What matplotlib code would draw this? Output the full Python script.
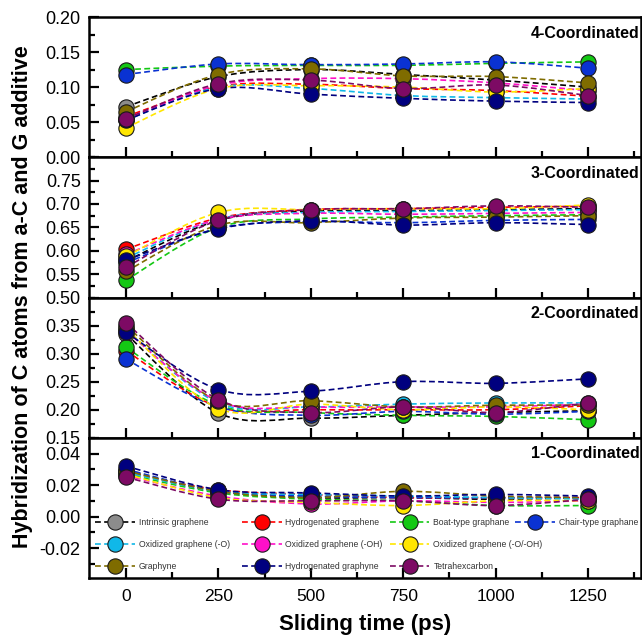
import numpy as np
import matplotlib
matplotlib.use("Agg")
import matplotlib.pyplot as plt
from matplotlib.path import Path
from matplotlib.patches import PathPatch
from matplotlib.lines import Line2D
from matplotlib.ticker import MultipleLocator, FormatStrFormatter

plt.rcParams['font.family'] = ['Liberation Sans', 'DejaVu Sans']
plt.rcParams['axes.unicode_minus'] = False

# data
times = [0, 250, 500, 750, 1000, 1250]
names = ['Intrinsic graphene', 'Hydrogenated graphene', 'Boat-type graphane',
         'Chair-type graphane', 'Oxidized graphene (-O)', 'Oxidized graphene (-OH)',
         'Oxidized graphene (-O/-OH)', 'Graphyne', 'Hydrogenated graphyne',
         'Tetrahexcarbon']

# one row per series, same order as names
coord4 = [[0.072, 0.115, 0.125, 0.118, 0.110, 0.100],
          [0.058, 0.101, 0.104, 0.098, 0.095, 0.087],
          [0.125, 0.130, 0.131, 0.131, 0.134, 0.136],
          [0.118, 0.133, 0.132, 0.133, 0.136, 0.127],
          [0.053, 0.100, 0.098, 0.088, 0.085, 0.083],
          [0.055, 0.103, 0.112, 0.112, 0.106, 0.095],
          [0.042, 0.098, 0.102, 0.100, 0.093, 0.098],
          [0.065, 0.118, 0.126, 0.116, 0.115, 0.106],
          [0.053, 0.098, 0.090, 0.084, 0.080, 0.078],
          [0.055, 0.105, 0.110, 0.098, 0.103, 0.088]]
coord3 = [[0.578, 0.665, 0.685, 0.686, 0.688, 0.690],
          [0.603, 0.670, 0.688, 0.690, 0.693, 0.695],
          [0.537, 0.650, 0.668, 0.672, 0.675, 0.677],
          [0.574, 0.648, 0.662, 0.660, 0.665, 0.667],
          [0.584, 0.668, 0.682, 0.684, 0.686, 0.688],
          [0.592, 0.667, 0.680, 0.678, 0.680, 0.682],
          [0.588, 0.682, 0.688, 0.690, 0.690, 0.698],
          [0.556, 0.655, 0.660, 0.670, 0.672, 0.675],
          [0.580, 0.647, 0.664, 0.655, 0.660, 0.656],
          [0.565, 0.665, 0.688, 0.690, 0.696, 0.693]]
coord2 = [[0.335, 0.194, 0.185, 0.190, 0.195, 0.198],
          [0.305, 0.205, 0.200, 0.200, 0.200, 0.207],
          [0.311, 0.208, 0.195, 0.190, 0.188, 0.182],
          [0.290, 0.205, 0.190, 0.197, 0.192, 0.197],
          [0.342, 0.212, 0.205, 0.210, 0.212, 0.212],
          [0.340, 0.215, 0.205, 0.205, 0.205, 0.210],
          [0.345, 0.202, 0.210, 0.200, 0.205, 0.200],
          [0.350, 0.215, 0.216, 0.205, 0.208, 0.208],
          [0.338, 0.236, 0.233, 0.250, 0.247, 0.255],
          [0.355, 0.218, 0.195, 0.205, 0.195, 0.212]]
coord1 = [[0.029, 0.016, 0.012, 0.012, 0.011, 0.012],
          [0.028, 0.017, 0.014, 0.012, 0.012, 0.012],
          [0.027, 0.015, 0.011, 0.010, 0.007, 0.007],
          [0.030, 0.016, 0.013, 0.012, 0.012, 0.012],
          [0.028, 0.016, 0.014, 0.013, 0.012, 0.011],
          [0.026, 0.013, 0.008, 0.010, 0.009, 0.010],
          [0.027, 0.012, 0.009, 0.007, 0.010, 0.010],
          [0.029, 0.016, 0.012, 0.016, 0.013, 0.012],
          [0.032, 0.017, 0.015, 0.013, 0.014, 0.013],
          [0.025, 0.011, 0.010, 0.010, 0.007, 0.011]]

panels = [coord4, coord3, coord2, coord1]
titles = ['4-Coordinated', '3-Coordinated', '2-Coordinated', '1-Coordinated']

# styles
face_colors = ['#8c8c8c', '#ff0000', '#14c814', '#0a32d2', '#10b8e8', '#ff10c8',
               '#ffe600', '#7f6c00', '#00007f', '#7d0a64']
line_colors = ['#000000'] + face_colors[1:]
ylims = [(0.0, 0.20), (0.50, 0.80), (0.15, 0.40), (-0.039, 0.05)]
yticks = [np.arange(0, 0.201, 0.05), np.arange(0.50, 0.751, 0.05),
          np.arange(0.15, 0.351, 0.05), np.arange(-0.02, 0.041, 0.02)]
yminor = [0.025, 0.025, 0.025, 0.01]
dash = (0, (3.5, 2))


def spline_path(x, y):
    # smooth curve through the points (Catmull-Rom as cubic Bezier)
    pts = np.column_stack([x, y]).astype(float)
    ext = np.vstack([pts[0], pts, pts[-1]])
    verts = [pts[0]]
    codes = [Path.MOVETO]
    for i in range(len(pts) - 1):
        p0, p1, p2, p3 = ext[i], ext[i + 1], ext[i + 2], ext[i + 3]
        verts += [p1 + (p2 - p0) / 6, p2 - (p3 - p1) / 6, p2]
        codes += [Path.CURVE4] * 3
    return Path(verts, codes)


fig, axes = plt.subplots(4, 1, sharex=True, figsize=(6.42, 6.40), dpi=100,
                         gridspec_kw=dict(hspace=0))
fig.subplots_adjust(left=89 / 642, right=641 / 642, top=1 - 17 / 640,
                    bottom=1 - 578 / 640)

for k, ax in enumerate(axes):
    for i, vals in enumerate(panels[k]):
        ax.add_patch(PathPatch(spline_path(times, vals), fill=False,
                               edgecolor=line_colors[i], lw=1.2, linestyle=dash,
                               zorder=2 + i * 0.01))
        ax.plot(times, vals, 'o', ms=11, mfc=face_colors[i], mec='#1a1a1a',
                mew=0.8, zorder=3 + i * 0.01)
    ax.set_ylim(*ylims[k])
    ax.set_yticks(yticks[k])
    ax.yaxis.set_minor_locator(MultipleLocator(yminor[k]))
    ax.yaxis.set_major_formatter(FormatStrFormatter('%.2f'))
    ax.set_xlim(-100, 1393)
    ax.xaxis.set_major_locator(MultipleLocator(250))
    ax.xaxis.set_minor_locator(MultipleLocator(125))
    ax.tick_params(which='both', direction='in', width=1.6)
    ax.tick_params(which='major', length=7.5)
    ax.tick_params(which='minor', length=4)
    ax.tick_params(axis='y', pad=6, labelsize=13)
    ax.tick_params(axis='x', pad=8, labelsize=12.5)
    for s in ax.spines.values():
        s.set_linewidth(1.8)
    ax.text(0.997, 0.885, titles[k], transform=ax.transAxes, ha='right',
            va='center', fontsize=11.5, fontweight='bold')

axes[-1].set_xlabel('Sliding time (ps)', fontsize=16, fontweight='bold', labelpad=7)
fig.text(0.035, 0.537, 'Hybridization of C atoms from a-C and G additive',
         rotation=90, ha='center', va='center', fontsize=15.5, fontweight='bold')

# legend, laid out row by row as in the original
handles = [Line2D([], [], color=line_colors[i], lw=1.2, linestyle=dash, marker='o',
                  ms=11, mfc=face_colors[i], mec='#1a1a1a', mew=0.8)
           for i in range(len(names))]
columns = [[0, 4, 7], [1, 5, 8], [2, 6, 9], [3]]
col_x = [0.011, 0.277, 0.545, 0.772]
ax4 = axes[-1]
legs = []
for cols, x in zip(columns, col_x):
    leg = ax4.legend([handles[i] for i in cols], [names[i] for i in cols],
                     loc='upper left', bbox_to_anchor=(x, 0.43), frameon=False,
                     fontsize=6.2, handlelength=4.6, handletextpad=0.45,
                     labelspacing=1.5, borderpad=0, borderaxespad=0)
    for t in leg.get_texts():
        t.set_color('#333333')
    legs.append(leg)
for leg in legs[:-1]:
    ax4.add_artist(leg)

fig.savefig('out.png', dpi=100)
